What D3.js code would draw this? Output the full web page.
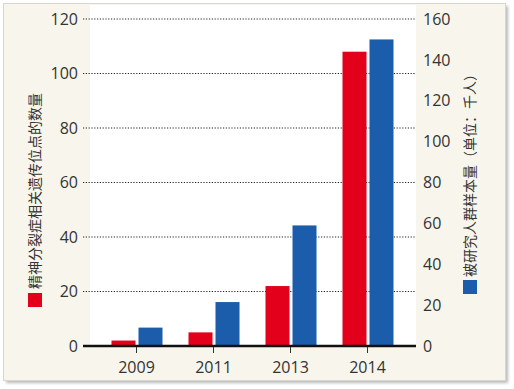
<!DOCTYPE html>
<html>
<head>
<meta charset="utf-8">
<script src="https://cdn.jsdelivr.net/npm/d3@7"></script>
<style>
  body { margin: 0; background: #fff; }
  svg { display: block; }
</style>
</head>
<body>
<svg id="chart" width="514" height="389"></svg>
<script>
// data
var years = ["2009", "2011", "2013", "2014"];
var lociCount = [2, 5, 22, 108];       // left axis, red
var sampleSize = [9, 21.5, 59, 150];   // right axis, blue (thousand people)
var leftTicks = [0, 20, 40, 60, 80, 100, 120];
var rightTicks = [0, 20, 40, 60, 80, 100, 120, 140, 160];
var leftLabel = "精神分裂症相关遗传位点的数量";
var rightLabel = "被研究人群样本量（单位：千人）";

var svg = d3.select("#chart");
var red = "#e3001b", blue = "#1b5dab";
var font = "'Open Sans', 'Noto Sans', sans-serif";
var cjk = "'Noto Sans CJK SC', sans-serif";

// frame with shadow
svg.append("rect").attr("x", 6).attr("y", 6).attr("width", 502).attr("height", 377)
   .attr("fill", "#b9b9b9").style("filter", "blur(1.5px)");
svg.append("rect").attr("x", 3.5).attr("y", 3.5).attr("width", 502).attr("height", 377)
   .attr("fill", "#f8f6ec").attr("stroke", "#d8d6cf");

// white plot area
svg.append("rect").attr("x", 90).attr("y", 5).attr("width", 326).attr("height", 341).attr("fill", "#fff");

var x = d3.scaleBand().domain(years).range([98, 406]);
var xs = d3.scaleBand().domain(["loci", "sample"]).range([-25, 26]).paddingInner(0.111);
var yL = d3.scaleLinear().domain([0, 120]).range([346, 19]);
var yR = d3.scaleLinear().domain([0, 160]).range([346, 19]);

// dotted gridlines
svg.append("g").selectAll("line").data(leftTicks.slice(1)).enter().append("line")
   .attr("x1", 83).attr("x2", 416)
   .attr("y1", function(d) { return yL(d); }).attr("y2", function(d) { return yL(d); })
   .attr("stroke", "#222").attr("stroke-width", 1.2).attr("stroke-dasharray", "1.2,1.6");

// bars
var g = svg.append("g");
g.selectAll(".loci").data(years).enter().append("rect")
   .attr("x", function(d) { return x(d) + x.bandwidth() / 2 + xs("loci"); })
   .attr("width", xs.bandwidth())
   .attr("y", function(d, i) { return yL(lociCount[i]); })
   .attr("height", function(d, i) { return yL(0) - yL(lociCount[i]); })
   .attr("fill", red);
g.selectAll(".sample").data(years).enter().append("rect")
   .attr("x", function(d) { return x(d) + x.bandwidth() / 2 + xs("sample"); })
   .attr("width", xs.bandwidth())
   .attr("y", function(d, i) { return yR(sampleSize[i]); })
   .attr("height", function(d, i) { return yR(0) - yR(sampleSize[i]); })
   .attr("fill", blue);

// base line
svg.append("line").attr("x1", 83).attr("x2", 416).attr("y1", 346).attr("y2", 346)
   .attr("stroke", "#111").attr("stroke-width", 2.5);

// x axis ticks and labels
var xa = svg.append("g").attr("transform", "translate(0,347)")
   .call(d3.axisBottom(x).tickSize(6).tickPadding(9));
xa.select(".domain").remove();
xa.selectAll("line").attr("stroke", "#333");
xa.selectAll("text").attr("font-family", font).attr("font-size", 16).attr("fill", "#333");

// left axis labels
var la = svg.append("g").attr("transform", "translate(82,0)")
   .call(d3.axisLeft(yL).tickValues(leftTicks).tickSize(0).tickPadding(4));
la.select(".domain").remove();
la.selectAll("text").attr("font-family", font).attr("font-size", 16).attr("fill", "#333");

// right axis labels
var ra = svg.append("g").attr("transform", "translate(419,0)")
   .call(d3.axisRight(yR).tickValues(rightTicks).tickSize(0).tickPadding(4));
ra.select(".domain").remove();
ra.selectAll("text").attr("font-family", font).attr("font-size", 16).attr("fill", "#333");

// rotated legends
svg.append("rect").attr("x", 28).attr("y", 293).attr("width", 14).attr("height", 14).attr("fill", red);
svg.append("text").attr("transform", "translate(40,289) rotate(-90)")
   .attr("font-family", cjk).attr("font-size", 14).attr("fill", "#333")
   .text(leftLabel);

svg.append("rect").attr("x", 463).attr("y", 280).attr("width", 14).attr("height", 14).attr("fill", blue);
svg.append("text").attr("transform", "translate(475,277) rotate(-90)")
   .attr("font-family", cjk).attr("font-size", 14).attr("fill", "#333")
   .text(rightLabel);
</script>
</body>
</html>
